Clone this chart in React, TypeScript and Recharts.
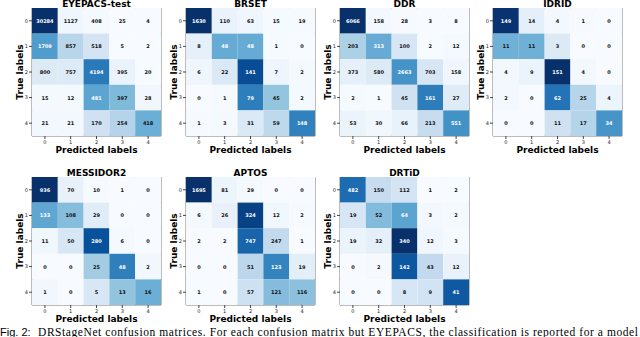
import { ReferenceArea, Scatter, ScatterChart, XAxis, YAxis } from "recharts";

const classes = [0, 1, 2, 3, 4];

const eyepacs = [
  [30284, 1127, 408, 25, 4],
  [1709, 857, 518, 5, 2],
  [800, 757, 4194, 395, 20],
  [15, 12, 481, 397, 28],
  [21, 21, 170, 254, 418],
];
const brset = [
  [1630, 110, 63, 15, 19],
  [8, 48, 48, 1, 0],
  [6, 22, 141, 7, 2],
  [0, 1, 79, 45, 2],
  [1, 3, 31, 59, 148],
];
const ddr = [
  [6066, 158, 28, 3, 8],
  [203, 313, 100, 2, 12],
  [373, 580, 2663, 703, 158],
  [2, 1, 45, 161, 27],
  [53, 30, 66, 213, 551],
];
const idrid = [
  [149, 14, 4, 1, 0],
  [11, 11, 3, 0, 0],
  [4, 9, 151, 4, 0],
  [2, 0, 62, 25, 4],
  [0, 0, 11, 17, 34],
];
const messidor2 = [
  [936, 70, 10, 1, 0],
  [133, 108, 29, 0, 0],
  [11, 50, 280, 6, 0],
  [0, 0, 25, 48, 2],
  [1, 0, 5, 13, 16],
];
const aptos = [
  [1695, 81, 29, 0, 0],
  [6, 26, 324, 12, 2],
  [2, 2, 747, 247, 1],
  [0, 0, 51, 123, 19],
  [1, 0, 57, 121, 116],
];
const drtid = [
  [482, 150, 112, 1, 2],
  [19, 52, 64, 3, 2],
  [19, 32, 340, 12, 3],
  [0, 2, 142, 43, 12],
  [0, 0, 8, 9, 41],
];

const captionLabel = "Fig. 2:";
const captionText =
  "DRStageNet confusion matrices. For each confusion matrix but EYEPACS, the classification is reported for a model";

// matplotlib "Blues"
const BLUES = ["#f7fbff", "#deebf7", "#c6dbef", "#9ecae1", "#6baed6", "#4292c6", "#2171b5", "#08519c", "#08306b"];

const FONT = "'DejaVu Sans', sans-serif";
const GRID_W = 129;
const GRID_H = 128;
const AXIS_W = 14;
const AXIS_H = 14;
const CELL_W = GRID_W / classes.length;
const CELL_H = GRID_H / classes.length;

function blues(t: number) {
  const v = Math.min(1, Math.max(0, t)) * (BLUES.length - 1);
  const i = Math.min(BLUES.length - 2, Math.floor(v));
  const f = v - i;
  const a = BLUES[i];
  const b = BLUES[i + 1];
  const ch = (s: string, k: number) => parseInt(s.slice(1 + k * 2, 3 + k * 2), 16);
  const mix = [0, 1, 2].map((k) => Math.round(ch(a, k) + (ch(b, k) - ch(a, k)) * f));
  return `rgb(${mix.join(",")})`;
}

type Panel = { title: string; matrix: number[][]; left: number; top: number };

const panels: Panel[] = [
  { title: "EYEPACS-test", matrix: eyepacs, left: 32, top: 8 },
  { title: "BRSET", matrix: brset, left: 186, top: 8 },
  { title: "DDR", matrix: ddr, left: 340, top: 8 },
  { title: "IDRID", matrix: idrid, left: 493, top: 8 },
  { title: "MESSIDOR2", matrix: messidor2, left: 32, top: 177 },
  { title: "APTOS", matrix: aptos, left: 186, top: 177 },
  { title: "DRTiD", matrix: drtid, left: 340, top: 177 },
];

function renderCell(p: any) {
  const { cx, cy, payload } = p;
  if (cx == null || cy == null) return <g />;
  return (
    <g>
      <rect x={cx - CELL_W / 2} y={cy - CELL_H / 2} width={CELL_W} height={CELL_H} fill={blues(payload.t)} />
      <text
        x={cx}
        y={cy}
        textAnchor="middle"
        dominantBaseline="central"
        fontSize={5}
        fontWeight={700}
        fontFamily={FONT}
        fill={payload.light ? "#ffffff" : "#111111"}
      >
        {payload.count}
      </text>
    </g>
  );
}

function Matrix({ matrix, left, top }: Panel) {
  // colour = row-normalised share, label = raw count
  const norm = matrix.map((row) => {
    const s = row.reduce((a, b) => a + b, 0);
    return row.map((v) => v / s);
  });
  const flat = norm.flat();
  const max = Math.max(...flat);
  const min = Math.min(...flat);
  const points = matrix.flatMap((row, r) =>
    row.map((count, c) => ({
      x: c,
      y: r,
      count,
      t: (norm[r][c] - min) / (max - min),
      light: norm[r][c] > max / 2,
    }))
  );
  const tick = { fontSize: 5, fill: "#222", fontFamily: FONT };
  return (
    <div style={{ position: "absolute", left: left - AXIS_W, top }}>
      <ScatterChart
        width={AXIS_W + GRID_W + 1}
        height={GRID_H + AXIS_H}
        margin={{ top: 0, right: 1, bottom: 0, left: 0 }}
      >
        <XAxis
          type="number"
          dataKey="x"
          domain={[-0.5, 4.5]}
          allowDataOverflow
          ticks={classes}
          interval={0}
          height={AXIS_H}
          tickSize={3}
          tickMargin={1}
          axisLine={false}
          stroke="#444"
          tick={tick}
        />
        <YAxis
          type="number"
          dataKey="y"
          domain={[-0.5, 4.5]}
          allowDataOverflow
          reversed
          ticks={classes}
          interval={0}
          width={AXIS_W}
          tickSize={3}
          tickMargin={1}
          axisLine={false}
          stroke="#444"
          tick={tick}
        />
        <Scatter data={points} shape={renderCell} isAnimationActive={false} />
        <ReferenceArea x1={-0.5} x2={4.5} y1={-0.5} y2={4.5} fill="none" stroke="#7a7a7a" strokeWidth={1} ifOverflow="visible" />
      </ScatterChart>
    </div>
  );
}

export default function App() {
  return (
    <div
      style={{
        position: "fixed",
        left: 0,
        top: 0,
        width: 640,
        height: 337,
        background: "#fff",
        overflow: "hidden",
      }}
    >
      {panels.map((p) => (
        <Matrix key={p.title} {...p} />
      ))}
      <svg width={640} height={337} style={{ position: "absolute", left: 0, top: 0, pointerEvents: "none" }}>
        {panels.map((p) => (
          <g key={p.title} fontFamily={FONT} fontWeight={700} fontSize={9} fill="#000">
            <text x={p.left + GRID_W / 2} y={p.top - 1} textAnchor="middle">
              {p.title}
            </text>
            <text x={p.left + GRID_W / 2} y={p.top + GRID_H + 17} textAnchor="middle">
              Predicted labels
            </text>
            <text
              transform={`translate(${p.left - 12}, ${p.top + GRID_H / 2}) rotate(-90)`}
              textAnchor="middle"
              dominantBaseline="central"
            >
              True labels
            </text>
          </g>
        ))}
        <text x={0} y={336} fontFamily="'Liberation Sans', sans-serif" fontSize={11} fill="#000">
          {captionLabel}
        </text>
        <text
          x={38}
          y={336}
          fontFamily="'Liberation Serif', serif"
          fontSize={11.5}
          fill="#000"
          textLength={600}
          lengthAdjust="spacing"
        >
          {captionText}
        </text>
      </svg>
    </div>
  );
}
